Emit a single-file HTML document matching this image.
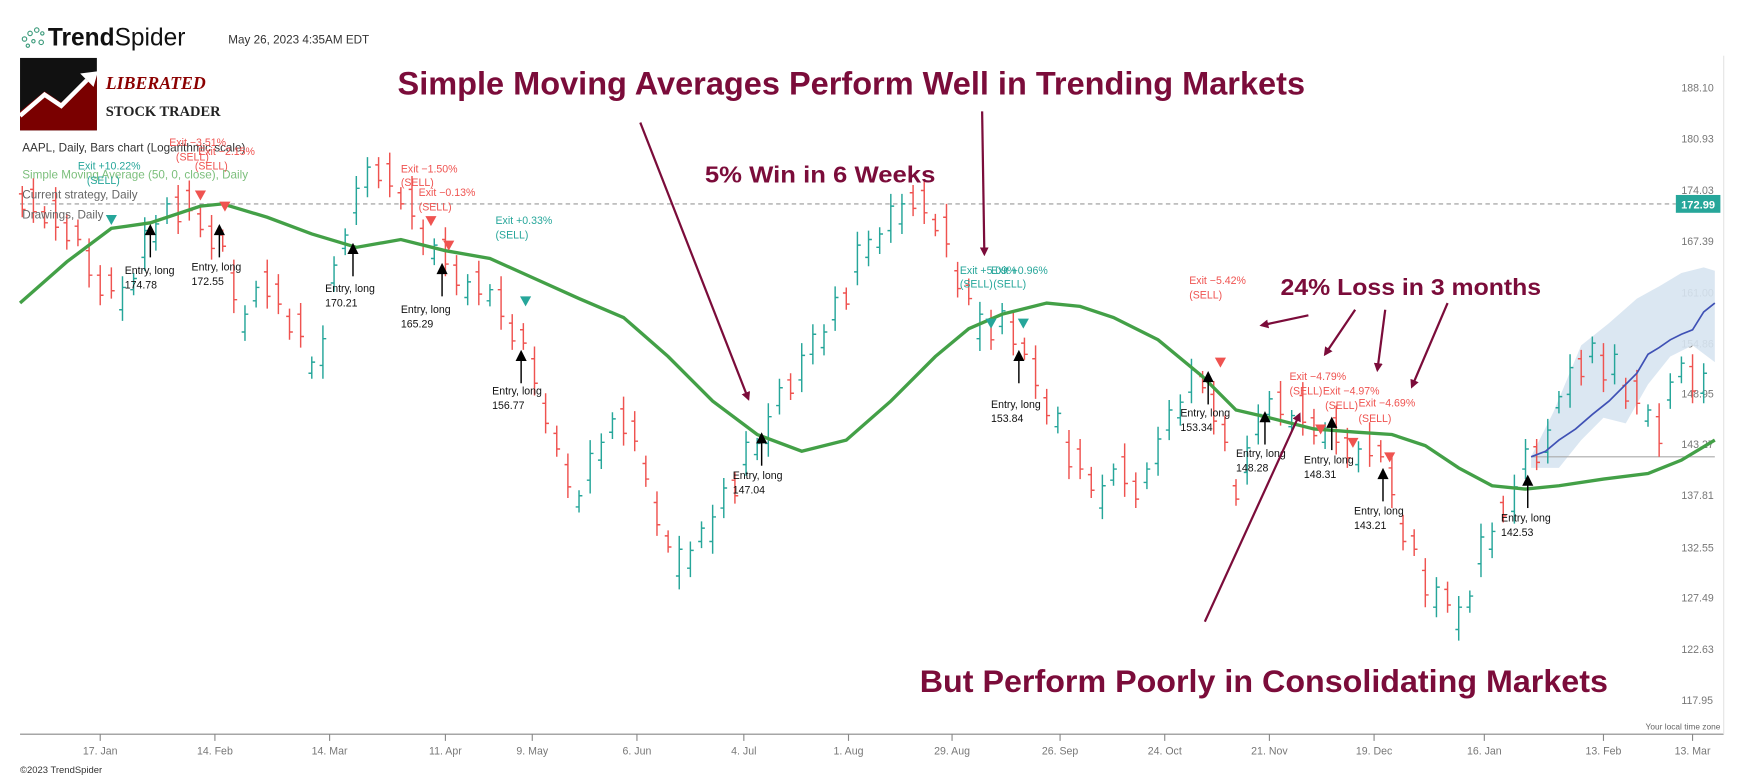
<!DOCTYPE html>
<html><head><meta charset="utf-8"><style>
html,body{margin:0;padding:0;background:#fff;}
svg{display:block;font-family:"Liberation Sans",sans-serif;}
</style></head><body>
<svg width="1746" height="781" viewBox="0 0 1568 701" preserveAspectRatio="none" xmlns="http://www.w3.org/2000/svg">
<rect width="1568" height="701" fill="#fff"/>
<g fill="none" stroke="#3a9a7a" stroke-width="1"><circle cx="22" cy="35" r="2"/><circle cx="27" cy="30" r="2"/><circle cx="33" cy="27" r="2"/><circle cx="38" cy="30" r="1.5"/><circle cx="30" cy="37" r="1.5"/><circle cx="37" cy="38" r="2"/><circle cx="25" cy="41" r="1.5"/></g>
<text x="43" y="41" font-size="22" fill="#111"><tspan font-weight="bold">Trend</tspan>Spider</text>
<text x="205" y="39" font-size="10.5" fill="#333">May 26, 2023 4:35AM EDT</text>
<rect x="18" y="52" width="69" height="65" fill="#111"/>
<polygon points="18,117 18,100 40,82 55,92 80,68 87,68 87,117" fill="#7a0000"/>
<polyline points="18,104 40,85 55,95 78,72" stroke="#fff" stroke-width="4" fill="none"/>
<polygon points="72,66 88,64 84,78" fill="#fff"/>
<text x="95" y="80" font-size="16" font-weight="bold" font-style="italic" fill="#8b0000" font-family="Liberation Serif,serif">LIBERATED</text>
<text x="95" y="104" font-size="13" font-weight="bold" fill="#222" font-family="Liberation Serif,serif">STOCK TRADER</text>

<line x1="18" y1="659" x2="1548" y2="659" stroke="#888" stroke-width="1"/>
<line x1="1548" y1="50" x2="1548" y2="659" stroke="#e4e4e4" stroke-width="1"/>
<g stroke="#888"><line x1="90" y1="659" x2="90" y2="665"/><line x1="193" y1="659" x2="193" y2="665"/><line x1="296" y1="659" x2="296" y2="665"/><line x1="400" y1="659" x2="400" y2="665"/><line x1="478" y1="659" x2="478" y2="665"/><line x1="572" y1="659" x2="572" y2="665"/><line x1="668" y1="659" x2="668" y2="665"/><line x1="762" y1="659" x2="762" y2="665"/><line x1="855" y1="659" x2="855" y2="665"/><line x1="952" y1="659" x2="952" y2="665"/><line x1="1046" y1="659" x2="1046" y2="665"/><line x1="1140" y1="659" x2="1140" y2="665"/><line x1="1234" y1="659" x2="1234" y2="665"/><line x1="1333" y1="659" x2="1333" y2="665"/><line x1="1440" y1="659" x2="1440" y2="665"/><line x1="1520" y1="659" x2="1520" y2="665"/></g>
<g font-size="9.5" fill="#777" text-anchor="middle">
<text x="90" y="677">17. Jan</text><text x="193" y="677">14. Feb</text><text x="296" y="677">14. Mar</text><text x="400" y="677">11. Apr</text><text x="478" y="677">9. May</text><text x="572" y="677">6. Jun</text><text x="668" y="677">4. Jul</text><text x="762" y="677">1. Aug</text><text x="855" y="677">29. Aug</text><text x="952" y="677">26. Sep</text><text x="1046" y="677">24. Oct</text><text x="1140" y="677">21. Nov</text><text x="1234" y="677">19. Dec</text><text x="1333" y="677">16. Jan</text><text x="1440" y="677">13. Feb</text><text x="1520" y="677">13. Mar</text>
</g>
<g font-size="9.5" fill="#777">
<text x="1510" y="82">188.10</text><text x="1510" y="128">180.93</text><text x="1510" y="174">174.03</text><text x="1510" y="220">167.39</text><text x="1510" y="266">161.00</text><text x="1510" y="312">154.86</text><text x="1510" y="357">148.95</text><text x="1510" y="402">143.27</text><text x="1510" y="448">137.81</text><text x="1510" y="495">132.55</text><text x="1510" y="540">127.49</text><text x="1510" y="586">122.63</text><text x="1510" y="632">117.95</text>
</g>
<text x="1545" y="655" font-size="7.5" fill="#666" text-anchor="end">Your local time zone</text>
<text x="18" y="694" font-size="8.5" fill="#333">©2023 TrendSpider</text>
<line x1="18" y1="183" x2="1505" y2="183" stroke="#999" stroke-dasharray="4,3"/>
<rect x="1505" y="175" width="40" height="16" fill="#26a69a"/>
<text x="1525" y="187" font-size="10" font-weight="bold" fill="#fff" text-anchor="middle">172.99</text>

<polygon points="1375,410 1395,370 1420,310 1445,290 1470,268 1490,257 1510,245 1530,240 1540,243 1540,325 1520,310 1500,320 1480,345 1460,380 1440,375 1420,395 1400,420 1375,420" fill="#d7e4f1" opacity="0.9"/>
<line x1="1375" y1="410" x2="1540" y2="410" stroke="#aaa" stroke-width="1"/>

<path fill="none" stroke="#ef5350" stroke-width="1.3" d="M20 167V195M17 174h3M20 188h3 M30 160V200M27 170h3M30 190h3 M40 185V205M37 190h3M40 200h3 M50 168V216M47 180h3M50 204h3 M60 192V224M57 200h3M60 216h3 M70 197V221M67 203h3M70 215h3 M80 214V258M77 225h3M80 247h3 M90 238V274M87 247h3M90 265h3 M100 240V268M97 247h3M100 261h3 M160 166V210M157 177h3M160 199h3 M170 162V198M167 171h3M170 189h3 M180 185V213M177 192h3M180 206h3 M190 193V233M187 203h3M190 223h3 M200 206V226M197 211h3M200 221h3 M210 233V281M207 245h3M210 269h3 M240 233V277M237 244h3M240 266h3 M250 246V282M247 255h3M250 273h3 M260 277V305M257 284h3M260 298h3 M270 272V312M267 282h3M270 302h3 M340 141V169M337 148h3M340 162h3 M350 137V177M347 147h3M350 167h3 M360 168V188M357 173h3M360 183h3 M370 158V206M367 170h3M370 194h3 M380 197V229M377 205h3M380 221h3 M400 204V248M397 215h3M400 237h3 M410 229V265M407 238h3M410 256h3 M430 234V274M427 244h3M430 264h3 M450 248V296M447 260h3M450 284h3 M460 282V314M457 290h3M460 306h3 M470 290V314M467 296h3M470 308h3 M480 311V355M477 322h3M480 344h3 M490 353V389M487 362h3M490 380h3 M500 382V410M497 389h3M500 403h3 M510 407V447M507 417h3M510 437h3 M560 356V400M557 367h3M560 389h3 M570 369V405M567 378h3M570 396h3 M580 409V437M577 416h3M580 430h3 M590 441V481M587 451h3M590 471h3 M600 476V496M597 481h3M600 491h3 M660 424V452M657 431h3M660 445h3 M710 335V359M707 341h3M710 353h3 M760 258V278M757 263h3M760 273h3 M820 166V194M817 173h3M820 187h3 M830 161V201M827 171h3M830 191h3 M840 192V212M837 197h3M840 207h3 M850 183V231M847 195h3M850 219h3 M860 235V267M857 243h3M860 259h3 M870 250V274M867 256h3M870 268h3 M890 278V314M887 287h3M890 305h3 M910 279V319M907 289h3M910 309h3 M920 303V323M917 308h3M920 318h3 M930 310V358M927 322h3M930 346h3 M940 349V381M937 357h3M940 373h3 M960 386V430M957 397h3M960 419h3 M970 394V430M967 403h3M970 421h3 M980 419V447M977 426h3M980 440h3 M1010 398V446M1007 410h3M1010 434h3 M1020 424V456M1017 432h3M1020 448h3 M1080 333V353M1077 338h3M1080 348h3 M1090 342V390M1087 354h3M1090 378h3 M1100 373V405M1097 381h3M1100 397h3 M1110 430V454M1107 436h3M1110 448h3 M1150 342V382M1147 352h3M1150 372h3 M1170 343V391M1167 355h3M1170 379h3 M1180 367V399M1177 375h3M1180 391h3 M1200 364V408M1197 375h3M1200 397h3 M1210 384V420M1207 393h3M1210 411h3 M1230 379V419M1227 389h3M1230 409h3 M1240 395V415M1237 400h3M1240 410h3 M1250 408V456M1247 420h3M1250 444h3 M1260 462V494M1257 470h3M1260 486h3 M1270 475V499M1267 481h3M1270 493h3 M1280 501V545M1277 512h3M1280 534h3 M1300 522V550M1297 529h3M1300 543h3 M1350 445V469M1347 451h3M1350 463h3 M1380 394V422M1377 401h3M1380 415h3 M1420 314V346M1417 322h3M1420 338h3 M1440 308V352M1437 319h3M1440 341h3 M1460 339V367M1457 346h3M1460 360h3 M1470 332V372M1467 342h3M1470 362h3 M1490 362V410M1487 374h3M1490 398h3 M1520 318V362M1517 329h3M1520 351h3"/>
<path fill="none" stroke="#26a69a" stroke-width="1.3" d="M110 248V288M107 278h3M110 258h3 M120 245V265M117 260h3M120 250h3 M130 195V243M127 231h3M130 207h3 M140 193V225M137 217h3M140 201h3 M150 177V201M147 195h3M150 183h3 M220 274V306M217 298h3M220 282h3 M230 252V276M227 270h3M230 258h3 M280 320V340M277 335h3M280 325h3 M290 292V340M287 328h3M290 304h3 M300 230V262M297 254h3M300 238h3 M310 205V229M307 223h3M310 211h3 M320 158V202M317 191h3M320 169h3 M330 141V177M327 168h3M330 150h3 M390 214V238M387 232h3M390 220h3 M420 246V274M417 267h3M420 253h3 M440 255V275M437 270h3M440 260h3 M520 440V460M517 455h3M520 445h3 M530 395V443M527 431h3M530 407h3 M540 389V421M537 413h3M540 397h3 M550 370V394M547 388h3M550 376h3 M610 481V529M607 517h3M610 493h3 M620 486V518M617 510h3M620 494h3 M630 468V492M627 486h3M630 474h3 M640 453V497M637 486h3M640 464h3 M650 429V465M647 456h3M650 438h3 M670 387V427M667 417h3M670 397h3 M680 393V413M677 408h3M680 398h3 M690 362V410M687 398h3M690 374h3 M700 340V372M697 364h3M700 348h3 M720 308V352M717 341h3M720 319h3 M730 291V327M727 318h3M730 300h3 M740 291V319M737 312h3M740 298h3 M750 257V297M747 287h3M750 267h3 M770 208V256M767 244h3M770 220h3 M780 207V239M777 231h3M780 215h3 M790 204V228M787 222h3M790 210h3 M800 174V218M797 207h3M800 185h3 M810 174V210M807 201h3M810 183h3 M880 271V315M877 304h3M880 282h3 M900 272V300M897 293h3M900 279h3 M950 365V389M947 383h3M950 371h3 M990 426V466M987 456h3M990 436h3 M1000 416V436M997 431h3M1000 421h3 M1030 415V439M1027 433h3M1030 421h3 M1040 383V427M1037 416h3M1040 394h3 M1050 359V395M1047 386h3M1050 368h3 M1060 354V382M1057 375h3M1060 361h3 M1070 322V362M1067 352h3M1070 332h3 M1120 391V435M1117 424h3M1120 402h3 M1130 363V399M1127 390h3M1130 372h3 M1140 351V379M1137 372h3M1140 358h3 M1160 368V388M1157 383h3M1160 373h3 M1190 379V403M1187 397h3M1190 385h3 M1220 396V424M1217 417h3M1220 403h3 M1290 518V554M1287 545h3M1290 527h3 M1310 535V575M1307 565h3M1310 545h3 M1320 530V550M1317 545h3M1320 535h3 M1330 470V518M1327 506h3M1330 482h3 M1340 469V501M1337 493h3M1340 477h3 M1360 426V470M1357 459h3M1360 437h3 M1370 394V430M1367 421h3M1370 403h3 M1390 376V416M1387 406h3M1390 386h3 M1400 351V371M1397 366h3M1400 356h3 M1410 318V366M1407 354h3M1410 330h3 M1430 302V326M1427 320h3M1430 308h3 M1450 309V345M1447 336h3M1450 318h3 M1480 363V383M1477 378h3M1480 368h3 M1500 335V367M1497 359h3M1500 343h3 M1510 320V344M1507 338h3M1510 326h3 M1530 326V362M1527 353h3M1530 335h3"/>

<polyline fill="none" stroke="#43a047" stroke-width="3" points="18,272 60,235 100,205 135,200 180,185 200,183 240,195 280,210 320,222 360,215 400,225 440,232 480,250 520,268 560,285 600,320 640,360 680,390 720,405 760,395 800,360 840,320 870,295 900,282 940,272 970,275 1000,285 1040,305 1080,338 1110,368 1140,375 1180,385 1220,388 1250,390 1280,400 1310,420 1340,436 1370,439 1400,436 1440,430 1480,425 1510,413 1540,395"/>
<polyline fill="none" stroke="#3f51b5" stroke-width="1.5" points="1375,410 1388,405 1400,395 1415,385 1430,372 1445,360 1460,345 1470,335 1480,318 1490,312 1500,305 1510,300 1520,296 1530,280 1540,272"/>

<g font-size="10.5">
<text x="20" y="136" fill="#333">AAPL, Daily, Bars chart (Logarithmic scale)</text>
<text x="20" y="160" fill="#7cbf7c">Simple Moving Average (50, 0, close), Daily</text>
<text x="20" y="178" fill="#666">Current strategy, Daily</text>
<text x="20" y="196" fill="#666">Drawings, Daily</text>
</g>

<g stroke="#000" stroke-width="1.3">
<line x1="135" y1="209" x2="135" y2="231"/><line x1="197" y1="209" x2="197" y2="231"/><line x1="317" y1="226" x2="317" y2="248"/><line x1="397" y1="244" x2="397" y2="266"/><line x1="468" y1="322" x2="468" y2="344"/><line x1="684" y1="396" x2="684" y2="418"/><line x1="915" y1="322" x2="915" y2="344"/><line x1="1085" y1="341" x2="1085" y2="363"/><line x1="1136" y1="377" x2="1136" y2="399"/><line x1="1196" y1="382" x2="1196" y2="404"/><line x1="1242" y1="428" x2="1242" y2="450"/><line x1="1372" y1="434" x2="1372" y2="456"/>
</g>
<g fill="#000">
<polygon points="130,211 140,211 135,201"/><polygon points="192,211 202,211 197,201"/><polygon points="312,228 322,228 317,218"/><polygon points="392,246 402,246 397,236"/><polygon points="463,324 473,324 468,314"/><polygon points="679,398 689,398 684,388"/><polygon points="910,324 920,324 915,314"/><polygon points="1080,343 1090,343 1085,333"/><polygon points="1131,379 1141,379 1136,369"/><polygon points="1191,384 1201,384 1196,374"/><polygon points="1237,430 1247,430 1242,420"/><polygon points="1367,436 1377,436 1372,426"/>
</g>
<g font-size="9.5" fill="#111">
<text x="112" y="246">Entry, long</text><text x="112" y="259">174.78</text>
<text x="172" y="243">Entry, long</text><text x="172" y="256">172.55</text>
<text x="292" y="262">Entry, long</text><text x="292" y="275">170.21</text>
<text x="360" y="281">Entry, long</text><text x="360" y="294">165.29</text>
<text x="442" y="354">Entry, long</text><text x="442" y="367">156.77</text>
<text x="658" y="430">Entry, long</text><text x="658" y="443">147.04</text>
<text x="890" y="366">Entry, long</text><text x="890" y="379">153.84</text>
<text x="1060" y="374">Entry, long</text><text x="1060" y="387">153.34</text>
<text x="1110" y="410">Entry, long</text><text x="1110" y="423">148.28</text>
<text x="1171" y="416">Entry, long</text><text x="1171" y="429">148.31</text>
<text x="1216" y="462">Entry, long</text><text x="1216" y="475">143.21</text>
<text x="1348" y="468">Entry, long</text><text x="1348" y="481">142.53</text>
</g>
<g font-size="9.5" fill="#26a69a">
<text x="70" y="152">Exit +10.22%</text><text x="78" y="165">(SELL)</text>
<text x="445" y="201">Exit +0.33%</text><text x="445" y="214">(SELL)</text>
<text x="862" y="246">Exit +5.09%</text><text x="890" y="246">Exit +0.96%</text><text x="862" y="258">(SELL)</text><text x="892" y="258">(SELL)</text>
</g>
<g font-size="9.5" fill="#ef5350">
<text x="152" y="131">Exit −3.51%</text><text x="158" y="144">(SELL)</text><text x="178" y="139">Exit −2.15%</text><text x="175" y="152">(SELL)</text>
<text x="360" y="155">Exit −1.50%</text><text x="360" y="167">(SELL)</text><text x="376" y="176">Exit −0.13%</text><text x="376" y="189">(SELL)</text>
<text x="1068" y="255">Exit −5.42%</text><text x="1068" y="268">(SELL)</text>
<text x="1158" y="341">Exit −4.79%</text><text x="1158" y="354">(SELL)</text><text x="1188" y="354">Exit −4.97%</text><text x="1190" y="367">(SELL)</text><text x="1220" y="365">Exit −4.69%</text><text x="1220" y="379">(SELL)</text>
</g>
<g fill="#26a69a"><polygon points="95,193 105,193 100,202"/><polygon points="467,266 477,266 472,275"/><polygon points="885,286 895,286 890,295"/><polygon points="914,286 924,286 919,295"/></g>
<g fill="#ef5350"><polygon points="175,171 185,171 180,180"/><polygon points="197,181 207,181 202,190"/><polygon points="382,194 392,194 387,203"/><polygon points="398,216 408,216 403,225"/><polygon points="1091,321 1101,321 1096,330"/><polygon points="1181,381 1191,381 1186,390"/><polygon points="1210,393 1220,393 1215,402"/><polygon points="1243,406 1253,406 1248,415"/></g>

<g fill="#7b0c3a" font-weight="bold">
<text x="357" y="85" font-size="29" textLength="815" lengthAdjust="spacingAndGlyphs">Simple Moving Averages Perform Well in Trending Markets</text>
<text x="633" y="164" font-size="21" textLength="207" lengthAdjust="spacingAndGlyphs">5% Win in 6 Weeks</text>
<text x="1150" y="265" font-size="21" textLength="234" lengthAdjust="spacingAndGlyphs">24% Loss in 3 months</text>
<text x="826" y="621" font-size="28" textLength="618" lengthAdjust="spacingAndGlyphs">But Perform Poorly in Consolidating Markets</text>
</g>
<defs><marker id="ah" markerWidth="8" markerHeight="8" refX="6" refY="4" orient="auto" markerUnits="userSpaceOnUse"><polygon points="0,0 8,4 0,8" fill="#7b0c3a"/></marker></defs>
<g stroke="#7b0c3a" stroke-width="2" marker-end="url(#ah)">
<line x1="575" y1="110" x2="672" y2="358"/>
<line x1="882" y1="100" x2="884" y2="228"/>
<line x1="1175" y1="283" x2="1133" y2="292"/>
<line x1="1217" y1="278" x2="1190" y2="318"/>
<line x1="1244" y1="278" x2="1237" y2="332"/>
<line x1="1300" y1="272" x2="1268" y2="347"/>
<line x1="1082" y1="558" x2="1167" y2="372"/>
</g>
</svg>
</body></html>
